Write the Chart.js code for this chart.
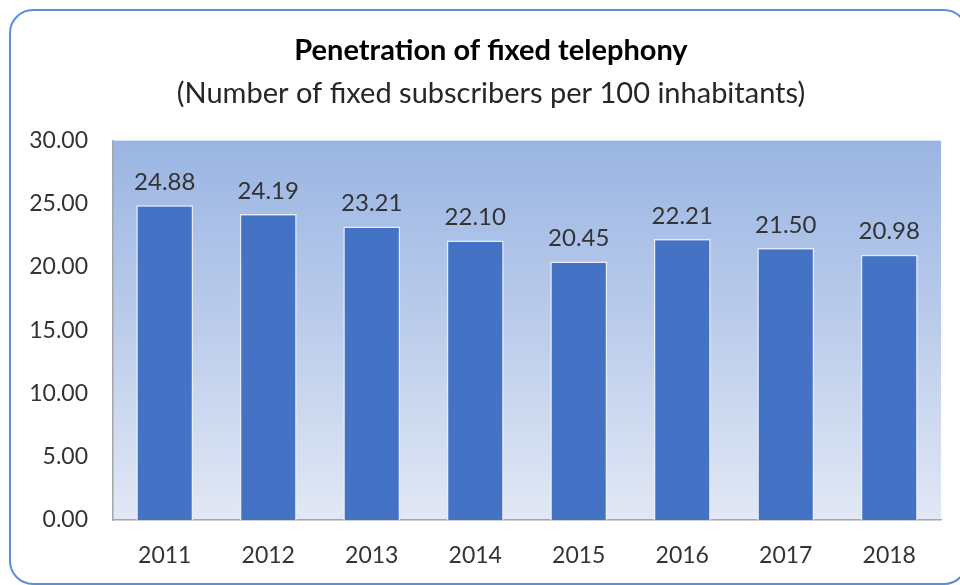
<!DOCTYPE html>
<html>
<head>
<meta charset="utf-8">
<script src="https://cdn.jsdelivr.net/npm/chart.js@4"></script>
<style>
    html, body { margin: 0; padding: 0; background: #fff; overflow: hidden; }
    #wrap { position: relative; width: 960px; height: 585px; }
    #frame {
        position: absolute; left: 9px; top: 9px; width: 955px; height: 572px;
        border: 2.5px solid #5B8ED6; border-radius: 24px;
    }
    canvas { position: absolute; left: 0; top: 0; }
</style>
</head>
<body>
<div id="wrap">
    <div id="frame"></div>
    <canvas id="chart" width="960" height="585"></canvas>
</div>
<script>
const years = ['2011', '2012', '2013', '2014', '2015', '2016', '2017', '2018'];
const penetration = [24.88, 24.19, 23.21, 22.10, 20.45, 22.21, 21.50, 20.98];
const yTicks = [0, 5, 10, 15, 20, 25, 30];

const FONT = 'Lato, "Open Sans", sans-serif';

// gradient behind the plot area
const plotBackground = {
    id: 'plotBackground',
    beforeDraw(chart) {
        const { ctx, chartArea: a } = chart;
        const g = ctx.createLinearGradient(0, a.top, 0, a.bottom);
        g.addColorStop(0, '#9AB5E3');
        g.addColorStop(0.5, '#BCCDEB');
        g.addColorStop(1, '#E2E8F5');
        ctx.save();
        ctx.fillStyle = g;
        ctx.fillRect(a.left, a.top, a.right - a.left, a.bottom - a.top);
        ctx.restore();
    }
};

// value labels above bars
const valueLabels = {
    id: 'valueLabels',
    afterDatasetsDraw(chart) {
        const { ctx } = chart;
        const meta = chart.getDatasetMeta(0);
        ctx.save();
        ctx.font = '24px ' + FONT;
        ctx.fillStyle = '#333333';
        ctx.textAlign = 'center';
        ctx.textBaseline = 'bottom';
        meta.data.forEach((bar, i) => {
            ctx.fillText(penetration[i].toFixed(2), bar.x, bar.y - 11);
        });
        ctx.restore();
    }
};

new Chart(document.getElementById('chart'), {
    type: 'bar',
    data: {
        labels: years,
        datasets: [{
            data: penetration,
            backgroundColor: '#4472C4',
            borderColor: 'rgba(235,241,250,0.9)',
            borderWidth: 1.5,
            borderSkipped: 'bottom',
            barPercentage: 0.55,
            categoryPercentage: 1
        }]
    },
    options: {
        responsive: false,
        animation: false,
        layout: { padding: { left: 29, right: 7, top: 0, bottom: 17 } },
        plugins: {
            legend: { display: false },
            tooltip: { enabled: false },
            title: {
                display: true,
                text: 'Penetration of fixed telephony',
                color: '#000000',
                font: { family: FONT, size: 29, weight: 'bold' },
                padding: { top: 33, bottom: 8 }
            },
            subtitle: {
                display: true,
                text: '(Number of fixed subscribers per 100 inhabitants)',
                color: '#262626',
                font: { family: FONT, size: 29 },
                padding: { top: 0, bottom: 30 }
            }
        },
        scales: {
            x: {
                afterFit(scale) { scale.height = 48; },
                grid: { display: false, drawTicks: false },
                border: { display: true, color: '#A6A6A6', width: 1.5 },
                ticks: { color: '#333333', font: { family: FONT, size: 23 }, padding: 22, maxRotation: 0 }
            },
            y: {
                min: 0,
                max: 30,
                afterBuildTicks(scale) {
                    scale.ticks = yTicks.map(v => ({ value: v }));
                },
                afterFit(scale) { scale.width = 84; },
                grid: { display: false, drawTicks: false },
                border: { display: true, color: '#A6A6A6', width: 1.5 },
                ticks: {
                    color: '#333333',
                    font: { family: FONT, size: 23 },
                    padding: 25,
                    callback: v => Number(v).toFixed(2)
                }
            },
            // empty right-hand spacer so the titles centre like the reference
            y2: {
                position: 'right',
                afterFit(scale) { scale.width = 12; },
                grid: { display: false, drawTicks: false },
                border: { display: false },
                ticks: { display: false }
            }
        }
    },
    plugins: [plotBackground, valueLabels]
});
</script>
</body>
</html>
